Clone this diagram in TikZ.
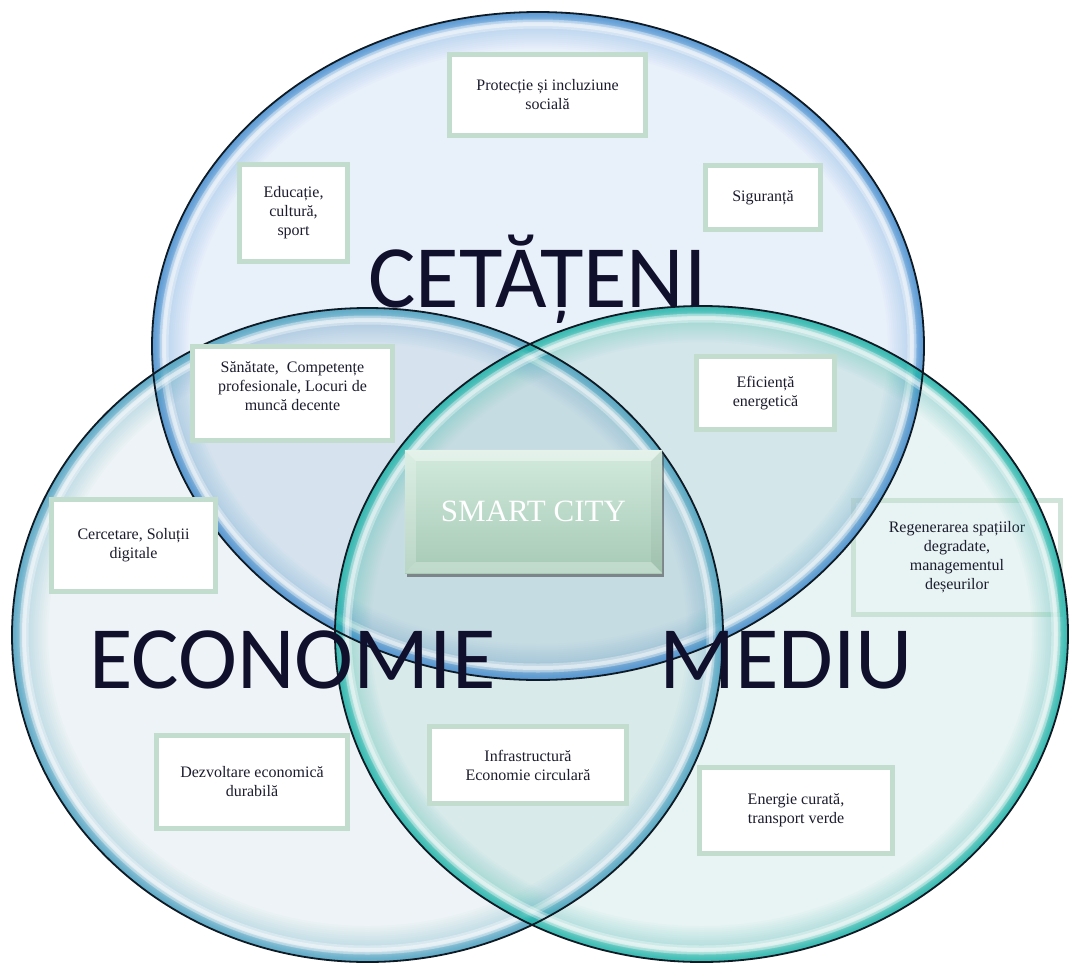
\documentclass[tikz,border=0pt]{standalone}
\usepackage{fontspec}
\setmainfont{Liberation Serif}
\newfontfamily\carlitofont{Carlito}
\usetikzlibrary{calc,shadows}
\definecolor{fT}{HTML}{E8F0FA}
\definecolor{fL}{HTML}{EDF3F6}
\definecolor{fR}{HTML}{E7F4F3}
\definecolor{fTL}{HTML}{D6E3EE}
\definecolor{fTR}{HTML}{D3E6EA}
\definecolor{fLR}{HTML}{D8EAEA}
\definecolor{fTLR}{HTML}{C6DCE3}
\definecolor{rT}{HTML}{4A92D2}
\definecolor{rL}{HTML}{4FA6C4}
\definecolor{rR}{HTML}{22B8AE}
\definecolor{edgec}{HTML}{0F1A24}
\definecolor{boxborder}{HTML}{C2DCCD}
\definecolor{txt}{HTML}{1C1C2E}
\definecolor{bigtxt}{HTML}{10102C}
\definecolor{smtop}{HTML}{D2EADD}
\definecolor{smbot}{HTML}{A6CAB5}
\newcommand\eT{(538,346) ellipse [x radius=386pt, y radius=334pt]}
\newcommand\eL{(367.5,635) ellipse [x radius=355.5pt, y radius=327pt]}
\newcommand\eR{(701.5,634) ellipse [x radius=366.5pt, y radius=328pt]}
\newcommand\eTi{(538,346) ellipse [x radius=374pt, y radius=322pt]}
\newcommand\eLi{(367.5,635) ellipse [x radius=343.5pt, y radius=315pt]}
\newcommand\eRi{(701.5,634) ellipse [x radius=354.5pt, y radius=316pt]}
% rim: strong thin band at the edge, white highlight inside it, faint wide glow
\newcommand\rimof[3]{\begin{scope}\clip #1;
  \foreach \w in {4,8,...,72}{\draw[#2, opacity=0.025, line width=\w pt] #1;}
  \foreach \w in {2,4,...,22}{\draw[#2, opacity=0.13, line width=\w pt] #1;}
  \draw[white, opacity=0.35, line width=9pt] #3;
  \draw[white, opacity=0.45, line width=4pt] #3;
  \end{scope}}
\tikzset{
  box/.style={draw=boxborder, line width=5pt, fill=white, align=center,
    font=\fontsize{16}{19}\selectfont, text=txt, inner sep=0pt},
  ghostbox/.style={box, fill=none, draw opacity=0.75},
  biglabel/.style={font=\carlitofont\fontsize{89}{89}\selectfont, text=bigtxt, anchor=base, inner sep=0pt},
  smartbox/.style={top color=smtop, bottom color=smbot, text=white, inner sep=0pt,
    drop shadow={shadow xshift=2pt, shadow yshift=-4pt, opacity=0.55, fill=black!75}},
  smarttxt/.style={text=white, font=\fontsize{31}{31}\selectfont, inner sep=0pt},
  outline/.style={draw=edgec, line width=1.8pt}
}
\begin{document}
\begin{tikzpicture}[x=1pt,y=-1pt]
\useasboundingbox (0,0) rectangle (1070,969);
\fill[white] (0,0) rectangle (1070,969);
% region fills
\fill[fT] \eT;
\fill[fL] \eL;
\fill[fR] \eR;
\begin{scope}\clip \eT; \fill[fTL] \eL; \end{scope}
\begin{scope}\clip \eT; \fill[fTR] \eR; \end{scope}
\begin{scope}\clip \eL; \fill[fLR] \eR; \end{scope}
\begin{scope}\clip \eT; \clip \eL; \fill[fTLR] \eR; \end{scope}
% box seen through the bubbles
\node[ghostbox, minimum width=207pt, minimum height=114pt] (regen) at (957,557.5)
  {Regenerarea spațiilor\\degradate,\\managementul\\deșeurilor};
% rims
\rimof{\eT}{rT}{\eTi}
\rimof{\eL}{rL}{\eLi}
\rimof{\eR}{rR}{\eRi}
\draw[outline] \eT;
\draw[outline] \eL;
\draw[outline] \eR;
% big labels
\node[biglabel] (cet) at (537.5,307) {CETĂȚENI};
\node[biglabel] (eco) at (292.5,688) {ECONOMIE};
\node[biglabel] (med) at (786,688) {MEDIU};
% boxes
\node[box, minimum width=196pt, minimum height=81pt] (prot) at (547.5,95) {Protecție și incluziune\\socială};
\node[box, minimum width=108pt, minimum height=97pt] (edu) at (293.5,213) {Educație,\\cultură,\\sport};
\node[box, minimum width=115pt, minimum height=64pt] (sig) at (763,197.5) {Siguranță};
\node[box, minimum width=200pt, minimum height=94pt] (san) at (292.5,393.5) {Sănătate,~ Competențe\\profesionale, Locuri de\\muncă decente\\[-5pt]\mbox{}};
\node[box, minimum width=138pt, minimum height=73pt] (eff) at (765.5,393) {Eficiență\\energetică};
\node[box, minimum width=164pt, minimum height=92pt] (cerc) at (133.5,545.5) {Cercetare, Soluții\\digitale};
\node[box, minimum width=191pt, minimum height=93pt] (dezv) at (252,782) {Dezvoltare economică\\durabilă};
\node[box, minimum width=197pt, minimum height=77pt] (infra) at (528,765) {Infrastructură\\Economie circulară};
\node[box, minimum width=193pt, minimum height=86pt] (energ) at (796,810.5) {Energie curată,\\transport verde};
% smart city
\node[smartbox, minimum width=257pt, minimum height=123pt] (smart) at (533.5,511.5) {};
\fill[white, opacity=0.4] (smart.north west) -- (smart.north east) -- ($(smart.north east)+(-11,11)$) -- ($(smart.north west)+(11,11)$) -- cycle;
\fill[white, opacity=0.22] (smart.north west) -- (smart.south west) -- ($(smart.south west)+(11,-11)$) -- ($(smart.north west)+(11,11)$) -- cycle;
\fill[white, opacity=0.28] (smart.south west) -- (smart.south east) -- ($(smart.south east)+(-11,-11)$) -- ($(smart.south west)+(11,-11)$) -- cycle;
\fill[black, opacity=0.04] (smart.north east) -- (smart.south east) -- ($(smart.south east)+(-11,-11)$) -- ($(smart.north east)+(-11,11)$) -- cycle;
\node[smarttxt] (smarttext) at (smart.center) {SMART CITY};
\end{tikzpicture}
\end{document}
